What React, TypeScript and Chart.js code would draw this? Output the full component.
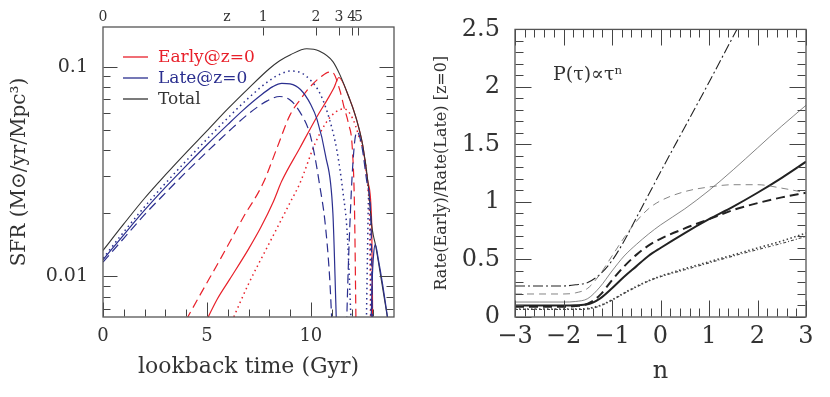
import React, { useEffect, useRef } from "react";
import { Chart, registerables } from "chart.js";
Chart.register(...registerables);

const FONT = "'DejaVu Serif', serif";
const RED = "#e8202a";
const BLUE = "#2b2f8f";
const INK = "#333333";

// ---------------- Left panel: SFR vs lookback time ----------------
const totalT = [0, 1, 2, 3, 4, 5, 6, 7, 8, 8.5, 9, 9.8, 10.4, 11.06, 11.4, 11.8, 12.2, 12.5, 12.75, 12.93, 13.0, 13.1, 13.4, 13.75];
const totalSfr = [0.0133, 0.0178, 0.0236, 0.0305, 0.039, 0.0495, 0.063, 0.079, 0.098, 0.107, 0.114, 0.122, 0.119, 0.106, 0.0916, 0.073, 0.056, 0.042, 0.028, 0.0175, 0.0158, 0.0143, 0.0095, 0.0058];

const earlySolidT = [4.85, 5.5, 6.1, 7.0, 7.6, 8.2, 8.6, 9.47, 10.3, 10.8, 11.1, 11.35, 11.8, 12.2, 12.5, 12.75, 12.93, 12.98];
const earlySolidSfr = [0.0058, 0.0078, 0.0097, 0.0135, 0.0172, 0.0228, 0.0285, 0.041, 0.058, 0.07, 0.079, 0.089, 0.073, 0.056, 0.042, 0.028, 0.0175, 0.005];

const earlyDashT = [4.0, 4.8, 5.5, 6.0, 6.73, 7.7, 8.37, 9.0, 9.5, 9.95, 10.5, 10.9, 11.05, 11.4, 11.6, 11.8, 12.0, 12.1, 12.18];
const earlyDashSfr = [0.0062, 0.0086, 0.0114, 0.014, 0.019, 0.0278, 0.041, 0.059, 0.07, 0.08, 0.09, 0.0945, 0.094, 0.077, 0.064, 0.054, 0.04, 0.021, 0.005];

const earlyDotT = [6.1, 7.0, 8.0, 9.0, 9.47, 10.2, 10.75, 11.2, 11.6, 12.0, 12.3, 12.6, 12.75, 12.84, 12.88];
const earlyDotSfr = [0.0058, 0.0092, 0.0144, 0.0225, 0.0278, 0.043, 0.0545, 0.061, 0.063, 0.057, 0.047, 0.036, 0.026, 0.016, 0.005];

const lateSolidT = [0, 1, 2, 3, 4, 5, 6, 6.73, 7.5, 8.17, 8.6, 9.0, 9.5, 10.0, 10.3, 10.7, 11.06, 11.2, 11.28];
const lateSolidSfr = [0.012, 0.0158, 0.0207, 0.0266, 0.0337, 0.0425, 0.053, 0.062, 0.072, 0.0805, 0.0835, 0.083, 0.078, 0.066, 0.056, 0.038, 0.02, 0.0075, 0.004];
const lateSolid2T = [12.88, 12.95, 13.02, 13.1, 13.25, 13.45, 13.75];
const lateSolid2Sfr = [0.005, 0.0095, 0.0128, 0.0142, 0.012, 0.0092, 0.0058];

const lateDotT = [0, 1, 2, 3, 4, 5, 6, 7, 8, 8.6, 9.0, 9.5, 10.0, 10.43, 10.9, 11.25, 11.55, 11.75, 11.97];
const lateDotSfr = [0.0122, 0.0163, 0.0215, 0.0278, 0.0356, 0.0452, 0.057, 0.071, 0.086, 0.093, 0.0955, 0.094, 0.086, 0.075, 0.056, 0.04, 0.025, 0.016, 0.005];
const lateDot2T = [12.66, 12.72, 12.78, 12.84, 12.9];
const lateDot2Sfr = [0.005, 0.012, 0.024, 0.022, 0.005];

const lateDashT = [0, 1, 2, 3, 4, 5, 6, 7, 7.9, 8.5, 9.0, 9.47, 9.95, 10.2, 10.43, 10.67, 10.9, 11.05];
const lateDashSfr = [0.0117, 0.0152, 0.0197, 0.025, 0.0315, 0.0393, 0.0487, 0.0597, 0.0688, 0.0722, 0.0695, 0.061, 0.048, 0.037, 0.027, 0.0186, 0.01, 0.005];
const lateDash2T = [11.7, 11.8, 11.9, 12.0, 12.12, 12.22, 12.45, 12.7, 12.9, 12.97];
const lateDash2Sfr = [0.005, 0.011, 0.02, 0.032, 0.045, 0.049, 0.042, 0.028, 0.017, 0.005];

const lookbackTicks = [0, 5, 10];
const lookbackMinor = [1, 2, 3, 4, 6, 7, 8, 9, 11, 12, 13];
const sfrTicks = [0.01, 0.1];
const sfrMinor = [0.007, 0.008, 0.009, 0.02, 0.03, 0.04, 0.05, 0.06, 0.07, 0.08, 0.09];
const sfrTickLabels = ["0.01", "0.1"];
const zTickT = [0, 7.71, 10.24, 11.35, 11.97, 12.29];
const zTickLabels = ["0", "1", "2", "3", "4", "5"];
const zLetterT = 5.96;
const legendLabels = ["Early@z=0", "Late@z=0", "Total"];

// ---------------- Right panel: rate ratio vs n ----------------
const nVals = [-3, -2.5, -2, -1.75, -1.5, -1.25, -1, -0.75, -0.5, -0.25, 0, 0.5, 1, 1.5, 2, 2.5, 3];
const ratioDashDot = [0.27, 0.27, 0.27, 0.28, 0.3, 0.37, 0.49, 0.66, 0.86, 1.06, 1.26, 1.65, 2.04, 2.44, 2.83, 3.2, 3.6];
const ratioThinDash = [0.2, 0.2, 0.2, 0.21, 0.25, 0.37, 0.53, 0.69, 0.83, 0.94, 1.01, 1.09, 1.13, 1.15, 1.15, 1.12, 1.08];
const ratioThinSolid = [0.13, 0.13, 0.13, 0.135, 0.16, 0.26, 0.4, 0.53, 0.63, 0.72, 0.8, 0.94, 1.1, 1.28, 1.47, 1.66, 1.84];
const ratioThickDash = [0.09, 0.09, 0.09, 0.095, 0.115, 0.19, 0.32, 0.44, 0.54, 0.62, 0.68, 0.77, 0.85, 0.93, 0.99, 1.04, 1.08];
const ratioThickSolid = [0.1, 0.1, 0.1, 0.102, 0.11, 0.16, 0.25, 0.35, 0.44, 0.53, 0.6, 0.73, 0.85, 0.96, 1.08, 1.21, 1.35];
const ratioDotA = [0.07, 0.07, 0.07, 0.07, 0.075, 0.1, 0.15, 0.21, 0.265, 0.315, 0.355, 0.42, 0.48, 0.54, 0.6, 0.66, 0.73];
const ratioDotB = [0.065, 0.065, 0.065, 0.065, 0.07, 0.095, 0.145, 0.205, 0.26, 0.31, 0.35, 0.41, 0.47, 0.53, 0.585, 0.64, 0.7];
const nTicks = [-3, -2, -1, 0, 1, 2, 3];
const nMinor = [-2.8, -2.6, -2.4, -2.2, -1.8, -1.6, -1.4, -1.2, -0.8, -0.6, -0.4, -0.2, 0.2, 0.4, 0.6, 0.8, 1.2, 1.4, 1.6, 1.8, 2.2, 2.4, 2.6, 2.8];
const ratioTicks = [0, 0.5, 1, 1.5, 2, 2.5];
const ratioMinor = [0.1, 0.2, 0.3, 0.4, 0.6, 0.7, 0.8, 0.9, 1.1, 1.2, 1.3, 1.4, 1.6, 1.7, 1.8, 1.9, 2.1, 2.2, 2.3, 2.4];

const xy = (t: number[], v: number[]) => t.map((x, i) => ({ x, y: v[i] }));

function line(t: number[], v: number[], color: string, dash: number[], width: number) {
  return {
    data: xy(t, v),
    borderColor: color,
    borderWidth: width,
    borderDash: dash,
    pointRadius: 0,
    fill: false,
    cubicInterpolationMode: "monotone",
    xAxisID: "x",
    yAxisID: "y",
  };
}

// one entry per side: [scaleId, side, values, length]
type TickSpec = [string, string, number[], number];

function framePlugin(specs: TickSpec[], extra: any) {
  return {
    id: "frame",
    afterDraw(chart: any) {
      const ctx = chart.ctx;
      const a = chart.chartArea;
      const L = Math.round(a.left) + 0.5;
      const R = Math.round(a.right) - 0.5;
      const T = Math.round(a.top) + 0.5;
      const B = Math.round(a.bottom) - 0.5;
      ctx.save();
      ctx.setLineDash([]);
      ctx.strokeStyle = "#444";
      ctx.lineWidth = 1;
      ctx.beginPath();
      for (let k = 0; k < specs.length; k++) {
        const id = specs[k][0];
        const side = specs[k][1];
        const vals = specs[k][2];
        const len = specs[k][3];
        const sc = chart.scales[id];
        for (let j = 0; j < vals.length; j++) {
          const p = Math.round(sc.getPixelForValue(vals[j])) + 0.5;
          if (side === "bottom") { ctx.moveTo(p, B); ctx.lineTo(p, B - len); }
          else if (side === "top") { ctx.moveTo(p, T); ctx.lineTo(p, T + len); }
          else if (side === "left") { ctx.moveTo(L, p); ctx.lineTo(L + len, p); }
          else if (side === "right") { ctx.moveTo(R, p); ctx.lineTo(R - len, p); }
        }
      }
      ctx.stroke();
      ctx.strokeStyle = "#555";
      ctx.lineWidth = 1.3;
      ctx.strokeRect(a.left, a.top, a.right - a.left, a.bottom - a.top);
      if (extra) extra(chart);
      ctx.restore();
    },
  };
}

function makeLeft(canvas: HTMLCanvasElement) {
  const datasets = [
    line(lateDotT, lateDotSfr, BLUE, [1.5, 3.5], 1.5),
    line(lateDot2T, lateDot2Sfr, BLUE, [1.5, 3.5], 1.5),
    line(lateDashT, lateDashSfr, BLUE, [9, 5], 1.2),
    line(lateDash2T, lateDash2Sfr, BLUE, [9, 5], 1.2),
    line(lateSolidT, lateSolidSfr, BLUE, [], 1.2),
    line(lateSolid2T, lateSolid2Sfr, BLUE, [], 1.2),
    line(totalT, totalSfr, INK, [], 1.1),
    line(earlyDotT, earlyDotSfr, RED, [1.5, 3.5], 1.5),
    line(earlyDashT, earlyDashSfr, RED, [9, 5], 1.2),
    line(earlySolidT, earlySolidSfr, RED, [], 1.2),
  ];
  const legend = (chart: any) => {
    const ctx = chart.ctx;
    const colors = [RED, BLUE, INK];
    const rows = [62, 83, 104];
    ctx.font = `17px ${FONT}`;
    ctx.textBaseline = "alphabetic";
    ctx.textAlign = "left";
    legendLabels.forEach((lab, i) => {
      ctx.strokeStyle = colors[i];
      ctx.lineWidth = 1.3;
      ctx.beginPath();
      ctx.moveTo(123, rows[i] - 5);
      ctx.lineTo(148, rows[i] - 5);
      ctx.stroke();
      ctx.fillStyle = colors[i];
      ctx.fillText(lab, 158, rows[i]);
    });
  };
  return new Chart(canvas, {
    type: "line",
    data: { datasets } as any,
    options: {
      animation: false,
      responsive: false,
      events: [],
      layout: { padding: { left: 0, top: 0, right: 21, bottom: 0 } },
      plugins: { legend: { display: false }, tooltip: { enabled: false } },
      scales: {
        x: {
          type: "linear",
          position: "bottom",
          min: 0,
          max: 14,
          afterFit: (s: any) => { s.height = 80; },
          afterBuildTicks: (s: any) => { s.ticks = lookbackTicks.map((v) => ({ value: v })); },
          grid: { display: false, drawTicks: false },
          border: { display: false },
          ticks: { padding: 9, color: INK, font: { family: FONT, size: 18 }, maxRotation: 0, autoSkip: false },
          title: { display: true, text: "lookback time (Gyr)", color: INK, font: { family: FONT, size: 22 }, padding: { top: 0, bottom: 17 } },
        },
        x2: {
          type: "linear",
          position: "top",
          min: 0,
          max: 14,
          afterFit: (s: any) => { s.height = 27; },
          afterBuildTicks: (s: any) => { s.ticks = [...zTickT, zLetterT].map((v) => ({ value: v })); },
          grid: { display: false, drawTicks: false },
          border: { display: false },
          ticks: {
            padding: 1,
            color: INK,
            font: { family: FONT, size: 14 },
            maxRotation: 0,
            autoSkip: false,
            callback: (_v: any, i: number) => (i < zTickLabels.length ? zTickLabels[i] : "z"),
          },
        },
        y: {
          type: "logarithmic",
          position: "left",
          min: 0.0064,
          max: 0.155,
          afterFit: (s: any) => { s.width = 103; },
          afterBuildTicks: (s: any) => { s.ticks = sfrTicks.map((v) => ({ value: v })); },
          grid: { display: false, drawTicks: false },
          border: { display: false },
          ticks: {
            padding: 15,
            color: INK,
            font: { family: FONT, size: 19 },
            autoSkip: false,
            callback: (_v: any, i: number) => sfrTickLabels[i],
          },
          title: { display: true, text: "SFR (M\u2299/yr/Mpc\u00b3)", color: INK, font: { family: FONT, size: 20 }, padding: { top: 8, bottom: 0 } },
        },
      },
    } as any,
    plugins: [
      framePlugin(
        [
          ["x", "bottom", lookbackTicks, 14],
          ["x", "bottom", lookbackMinor, 7],
          ["x2", "top", zTickT.slice(1), 8],
          ["y", "left", sfrTicks, 14],
          ["y", "right", sfrTicks, 14],
          ["y", "left", sfrMinor, 7],
          ["y", "right", sfrMinor, 7],
        ],
        legend
      ),
    ],
  });
}

function makeRight(canvas: HTMLCanvasElement) {
  const datasets = [
    line(nVals, ratioThinSolid, "#666", [], 0.8),
    line(nVals, ratioThinDash, "#777", [7, 5], 0.9),
    line(nVals, ratioDashDot, "#222", [10, 3, 2, 3], 1.1),
    line(nVals, ratioDotB, "#444", [3, 2, 1, 2], 1.1),
    line(nVals, ratioDotA, "#444", [1.5, 2.5], 1.6),
    line(nVals, ratioThickDash, "#222", [9, 5], 2),
    line(nVals, ratioThickSolid, "#222", [], 2),
  ];
  const label = (chart: any) => {
    const ctx = chart.ctx;
    ctx.font = `19px ${FONT}`;
    ctx.fillStyle = INK;
    ctx.textAlign = "left";
    ctx.textBaseline = "alphabetic";
    ctx.fillText("P(\u03c4)\u221d\u03c4\u207f", 138, 80);
  };
  return new Chart(canvas, {
    type: "line",
    data: { datasets } as any,
    options: {
      animation: false,
      responsive: false,
      events: [],
      layout: { padding: { left: 0, top: 27, right: 24, bottom: 0 } },
      plugins: { legend: { display: false }, tooltip: { enabled: false } },
      scales: {
        x: {
          type: "linear",
          position: "bottom",
          min: -3,
          max: 3,
          afterFit: (s: any) => { s.height = 80; },
          afterBuildTicks: (s: any) => { s.ticks = nTicks.map((v) => ({ value: v })); },
          grid: { display: false, drawTicks: false },
          border: { display: false },
          ticks: {
            padding: 5,
            color: INK,
            font: { family: FONT, size: 24 },
            maxRotation: 0,
            autoSkip: false,
            callback: (_v: any, i: number) => String(nTicks[i]).replace("-", "\u2212"),
          },
          title: { display: true, text: "n", color: INK, font: { family: FONT, size: 24 }, padding: { top: 0, bottom: 11 } },
        },
        y: {
          type: "linear",
          position: "left",
          min: 0,
          max: 2.5,
          afterFit: (s: any) => { s.width = 100; },
          afterBuildTicks: (s: any) => { s.ticks = ratioTicks.map((v) => ({ value: v })); },
          grid: { display: false, drawTicks: false },
          border: { display: false },
          ticks: {
            padding: 15,
            color: INK,
            font: { family: FONT, size: 24 },
            autoSkip: false,
            callback: (_v: any, i: number) => String(ratioTicks[i]),
          },
          title: { display: true, text: "Rate(Early)/Rate(Late) [z=0]", color: INK, font: { family: FONT, size: 16 }, padding: { top: 17, bottom: 0 } },
        },
      },
    } as any,
    plugins: [
      framePlugin(
        [
          ["x", "bottom", nTicks, 16],
          ["x", "top", nTicks, 16],
          ["x", "bottom", nMinor, 8],
          ["x", "top", nMinor, 8],
          ["y", "left", ratioTicks, 16],
          ["y", "right", ratioTicks, 16],
          ["y", "left", ratioMinor, 8],
          ["y", "right", ratioMinor, 8],
        ],
        label
      ),
    ],
  });
}

export default function App() {
  const leftRef = useRef<HTMLCanvasElement>(null);
  const rightRef = useRef<HTMLCanvasElement>(null);
  useEffect(() => {
    const l = makeLeft(leftRef.current!);
    const r = makeRight(rightRef.current!);
    return () => {
      l.destroy();
      r.destroy();
    };
  }, []);
  return (
    <div style={{ position: "fixed", left: 0, top: 0, width: 830, height: 397, background: "#fff" }}>
      <canvas ref={leftRef} width={415} height={397} style={{ position: "absolute", left: 0, top: 0, width: 415, height: 397 }} />
      <canvas ref={rightRef} width={415} height={397} style={{ position: "absolute", left: 415, top: 0, width: 415, height: 397 }} />
    </div>
  );
}
